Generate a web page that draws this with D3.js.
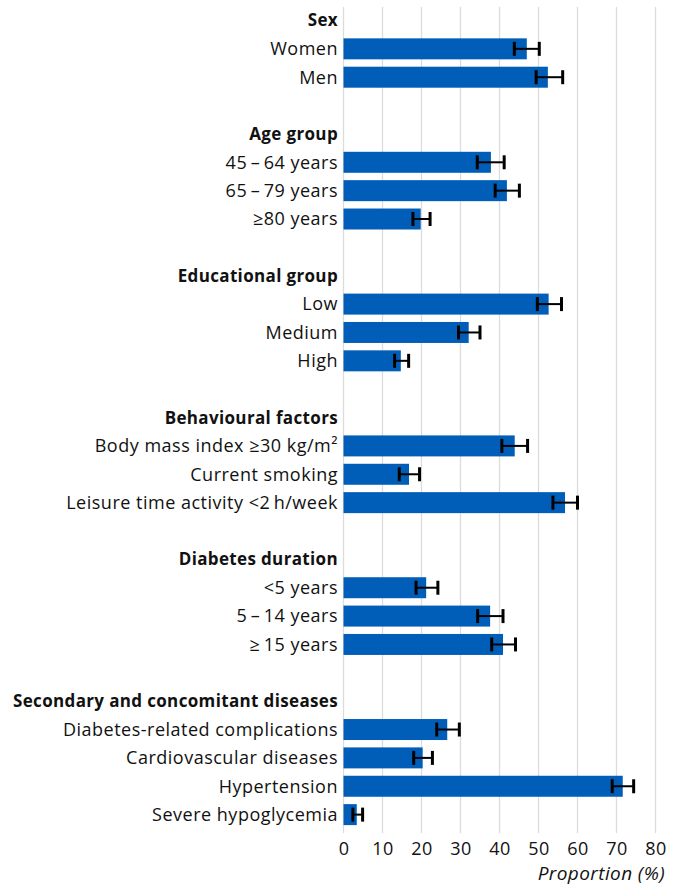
<!DOCTYPE html>
<html>
<head>
<meta charset="utf-8">
<script src="https://cdn.jsdelivr.net/npm/d3@7"></script>
<style>
  html, body { margin: 0; padding: 0; background: #fff; }
  svg text { font-family: "Open Sans", "Noto Sans", sans-serif; fill: #111; }
</style>
</head>
<body>
<svg id="chart" width="681" height="887"></svg>
<script>
// Row labels ("" = spacer row)
const labels = [
  "Sex", "Women", "Men", "",
  "Age group", "45\u2009\u2013\u200964 years", "65\u2009\u2013\u200979 years", "\u226580 years", "",
  "Educational group", "Low", "Medium", "High", "",
  "Behavioural factors", "Body mass index \u226530 kg/m\u00B2", "Current smoking", "Leisure time activity <2\u2009h/week", "",
  "Diabetes duration", "<5 years", "5\u2009\u2013\u200914 years", "\u2265\u200915 years", "",
  "Secondary and concomitant diseases", "Diabetes-related complications", "Cardiovascular diseases", "Hypertension", "Severe hypoglycemia"
];
const headers = ["Sex", "Age group", "Educational group", "Behavioural factors", "Diabetes duration", "Secondary and concomitant diseases"];
// Proportion (%) per row, null where no bar
const values = [
  null, 47.0, 52.4, null,
  null, 37.8, 41.9, 19.8, null,
  null, 52.6, 32.1, 14.7, null,
  null, 43.9, 16.8, 56.8, null,
  null, 21.2, 37.6, 40.9, null,
  null, 26.6, 20.3, 71.6, 3.4
];
const lower = [
  null, 43.8, 49.4, null,
  null, 34.3, 38.9, 17.8, null,
  null, 49.7, 29.5, 13.1, null,
  null, 40.6, 14.3, 53.7, null,
  null, 18.6, 34.4, 38.0, null,
  null, 23.9, 18.0, 68.9, 2.4
];
const upper = [
  null, 50.2, 56.2, null,
  null, 41.2, 45.1, 22.2, null,
  null, 55.9, 35.0, 16.7, null,
  null, 47.2, 19.5, 60.0, null,
  null, 24.2, 40.9, 44.1, null,
  null, 29.7, 22.8, 74.4, 4.9
];
const ticks = [0, 10, 20, 30, 40, 50, 60, 70, 80];
const axisTitle = "Proportion (%)";

const rows = labels.map((l, i) => ({ i, label: l, v: values[i], lo: lower[i], hi: upper[i], header: headers.includes(l) }));

const svg = d3.select("#chart");
const x = d3.scaleLinear().domain([0, 80]).range([343.5, 655.5]);
const y = d3.scaleBand().domain(d3.range(labels.length)).range([6.3, 828.8]).paddingInner(0.26).paddingOuter(0.13);

// gridlines
svg.append("g").selectAll("line").data(ticks).join("line")
  .attr("x1", d => x(d)).attr("x2", d => x(d))
  .attr("y1", 7).attr("y2", 833)
  .attr("stroke", "#dcdcdc").attr("stroke-width", 1.3);

// bars
const dataRows = rows.filter(r => r.v != null);
svg.append("g").selectAll("rect").data(dataRows).join("rect")
  .attr("x", x(0)).attr("y", d => y(d.i))
  .attr("width", d => x(d.v) - x(0)).attr("height", y.bandwidth())
  .attr("fill", "#005EB8");

// error bars
const eb = svg.append("g").attr("stroke", "#000");
const cy = d => y(d.i) + y.bandwidth() / 2;
eb.selectAll("line.h").data(dataRows).join("line").attr("class", "h")
  .attr("x1", d => x(d.lo)).attr("x2", d => x(d.hi))
  .attr("y1", cy).attr("y2", cy).attr("stroke-width", 2);
eb.selectAll("line.l").data(dataRows).join("line").attr("class", "l")
  .attr("x1", d => x(d.lo)).attr("x2", d => x(d.lo))
  .attr("y1", d => cy(d) - 7).attr("y2", d => cy(d) + 7).attr("stroke-width", 3);
eb.selectAll("line.u").data(dataRows).join("line").attr("class", "u")
  .attr("x1", d => x(d.hi)).attr("x2", d => x(d.hi))
  .attr("y1", d => cy(d) - 7).attr("y2", d => cy(d) + 7).attr("stroke-width", 3);

// row labels
svg.append("g").selectAll("text").data(rows.filter(r => r.label !== "")).join("text")
  .attr("x", 338).attr("y", cy)
  .attr("dy", "0.35em")
  .attr("text-anchor", "end")
  .attr("font-size", d => d.header ? 17 : 18)
  .attr("letter-spacing", d => d.header ? 0.35 : 0.5)
  .attr("font-weight", d => d.header ? 700 : 400)
  .text(d => d.label);

// x axis
const axis = svg.append("g").attr("transform", "translate(0,833)")
  .call(d3.axisBottom(x).tickValues(ticks).tickSize(0).tickPadding(9));
axis.select(".domain").remove();
axis.selectAll("text").attr("font-size", 18).attr("fill", "#111").attr("letter-spacing", 0.4)
  .style("font-family", '"Open Sans", "Noto Sans", sans-serif');

svg.append("text").attr("x", 665).attr("y", 880).attr("text-anchor", "end")
  .attr("font-size", 19).attr("letter-spacing", 0.4).attr("font-style", "italic").text(axisTitle);
</script>
</body>
</html>
